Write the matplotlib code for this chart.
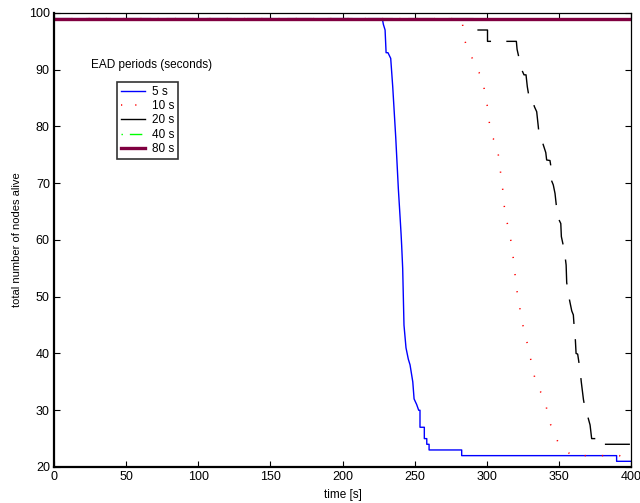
import matplotlib
matplotlib.use("Agg")
import matplotlib.pyplot as plt
from matplotlib.lines import Line2D

plt.rcParams['font.family'] = ['Liberation Sans', 'DejaVu Sans']

# Nodes alive over time for each EAD period
t_5s = [0, 227.6, 228.3, 229.5, 230.2, 231.5, 233.4, 234.8, 236.9, 238.7, 239.9,
        240.6, 241.0, 241.7, 242.6, 244.0, 245.6, 246.8, 248.7, 249.6, 251.4,
        252.8, 253.7, 253.7, 256.7, 256.7, 258.4, 258.4, 260.0, 260.0, 264.1, 264.1,
        282.6, 282.6, 390.0, 390.0, 400]
n_5s = [99, 99, 98, 97, 93, 93, 92, 87, 78, 69, 64,
        61, 59, 55, 45, 41, 39, 38, 35, 32, 31,
        30, 30, 27, 27, 25, 25, 24, 24, 23, 23, 23,
        23, 22, 22, 21, 21]

t_10s = [0, 283, 283.5, 285, 287, 290, 292, 297, 298, 299, 301, 302, 304, 307,
         309, 311, 312.5, 315, 317, 319, 320.5, 322, 324, 327, 330, 333, 335,
         338, 341, 342, 344, 347, 349, 350, 354.5, 359, 392, 397, 400]
n_10s = [99, 99, 97, 95, 93, 92, 90, 89, 87, 85, 83, 80, 78, 77,
         73, 69, 65, 62, 59.5, 55.5, 51.5, 49.7, 46, 43, 39.5, 36, 34,
         33, 31, 29.5, 27.6, 26, 24.6, 24, 23, 22, 22, 21, 21]

t_20s = [0, 292.5, 292.5, 300.5, 300.5, 320.5, 321.0, 323.1, 324.4, 325.8, 327.2,
         328.1, 330.0, 332.3, 333.0, 334.6, 335.7, 336.4, 338.1, 340.9, 341.5,
         343.8, 344.3, 345.0, 346.1, 347.3, 348.5, 349.6, 351.3, 351.7, 353.8,
         355.0, 355.4, 356.8, 358.9, 360.0, 360.5, 361.4, 361.9, 363.0, 364.6,
         365.5, 367.0, 367.7, 368.8, 371.6, 372.7, 376.0, 376.0, 399.5, 399.5, 400]
n_20s = [99, 99, 97, 97, 95, 95, 93.6, 91.2, 89.9, 89.1, 89.1,
         87, 84.1, 84.1, 83.5, 82.6, 80, 78.2, 77.6, 75.4, 74.1,
         74, 73.2, 70.4, 69.7, 68.2, 65.4, 63.8, 62.9, 60.6, 58.1,
         55.6, 52.5, 50.1, 47.5, 46.8, 45, 42.4, 40, 39.9, 37.2,
         35, 31.9, 30.9, 30, 27.4, 25, 25, 24, 24, 23, 23]

t_40s = [0, 400]
n_40s = [99, 99]

t_80s = [0, 400]
n_80s = [99, 99]

legend_labels = ['5 s', '10 s', '20 s', '40 s', '80 s']
x_ticks = [0, 50, 100, 150, 200, 250, 300, 350, 400]
y_ticks = [20, 30, 40, 50, 60, 70, 80, 90, 100]

DOTTED = (0, (0.8, 10.5))
DASHED = (0, (18, 11))
DASHDOT = (0, (1, 5, 9, 5))

fig = plt.figure(figsize=(6.4, 5.03), dpi=100)
ax = fig.add_axes([0.0844, 0.0716, 0.9016, 0.9026])

ax.plot(t_5s, n_5s, color='#0000ff', lw=1.0)
ax.plot(t_10s, n_10s, color='#ff0000', lw=1.1, linestyle=DOTTED)
ax.plot(t_20s, n_20s, color='black', lw=1.0, linestyle=(6, (18, 11)))
ax.plot(t_40s, n_40s, color='#00ff00', lw=1.0, linestyle=DASHDOT)
ax.plot(t_80s, n_80s, color='#800040', lw=2.4, solid_capstyle='butt')

ax.set_xlim(0, 400)
ax.set_ylim(20, 100)
ax.set_xticks(x_ticks)
ax.set_yticks(y_ticks)
ax.tick_params(direction='in', length=4, width=0.8, labelsize=9,
               top=True, right=True, pad=3, colors='black')

for side in ['left', 'bottom']:
    ax.spines[side].set_linewidth(1.6)
for side in ['top', 'right']:
    ax.spines[side].set_linewidth(0.9)

ax.set_xlabel('time [s]', fontsize=8.5, labelpad=4)
ax.set_ylabel('total number of nodes alive', fontsize=8, labelpad=5)

# Legend with caption placed above it
handles = [
    Line2D([], [], color='#0000ff', lw=1.0),
    Line2D([], [], color='#ff0000', lw=1.1, linestyle=(0, (0.8, 8.5))),
    Line2D([], [], color='black', lw=1.0),
    Line2D([], [], color='#00ff00', lw=1.0, linestyle=DASHDOT),
    Line2D([], [], color='#800040', lw=2.4),
]
leg = ax.legend(handles, legend_labels, loc='upper left',
                bbox_to_anchor=(0.109, 0.849), fontsize=8.5,
                frameon=True, fancybox=False, handlelength=2.0,
                handletextpad=0.6, borderpad=0.35, labelspacing=0.2,
                borderaxespad=0)
leg.get_frame().set_edgecolor('black')
leg.get_frame().set_linewidth(1.2)

ax.text(0.064, 0.886, 'EAD periods (seconds)', transform=ax.transAxes,
        fontsize=8.5, va='center', ha='left')

fig.savefig('out.png', dpi=100)
